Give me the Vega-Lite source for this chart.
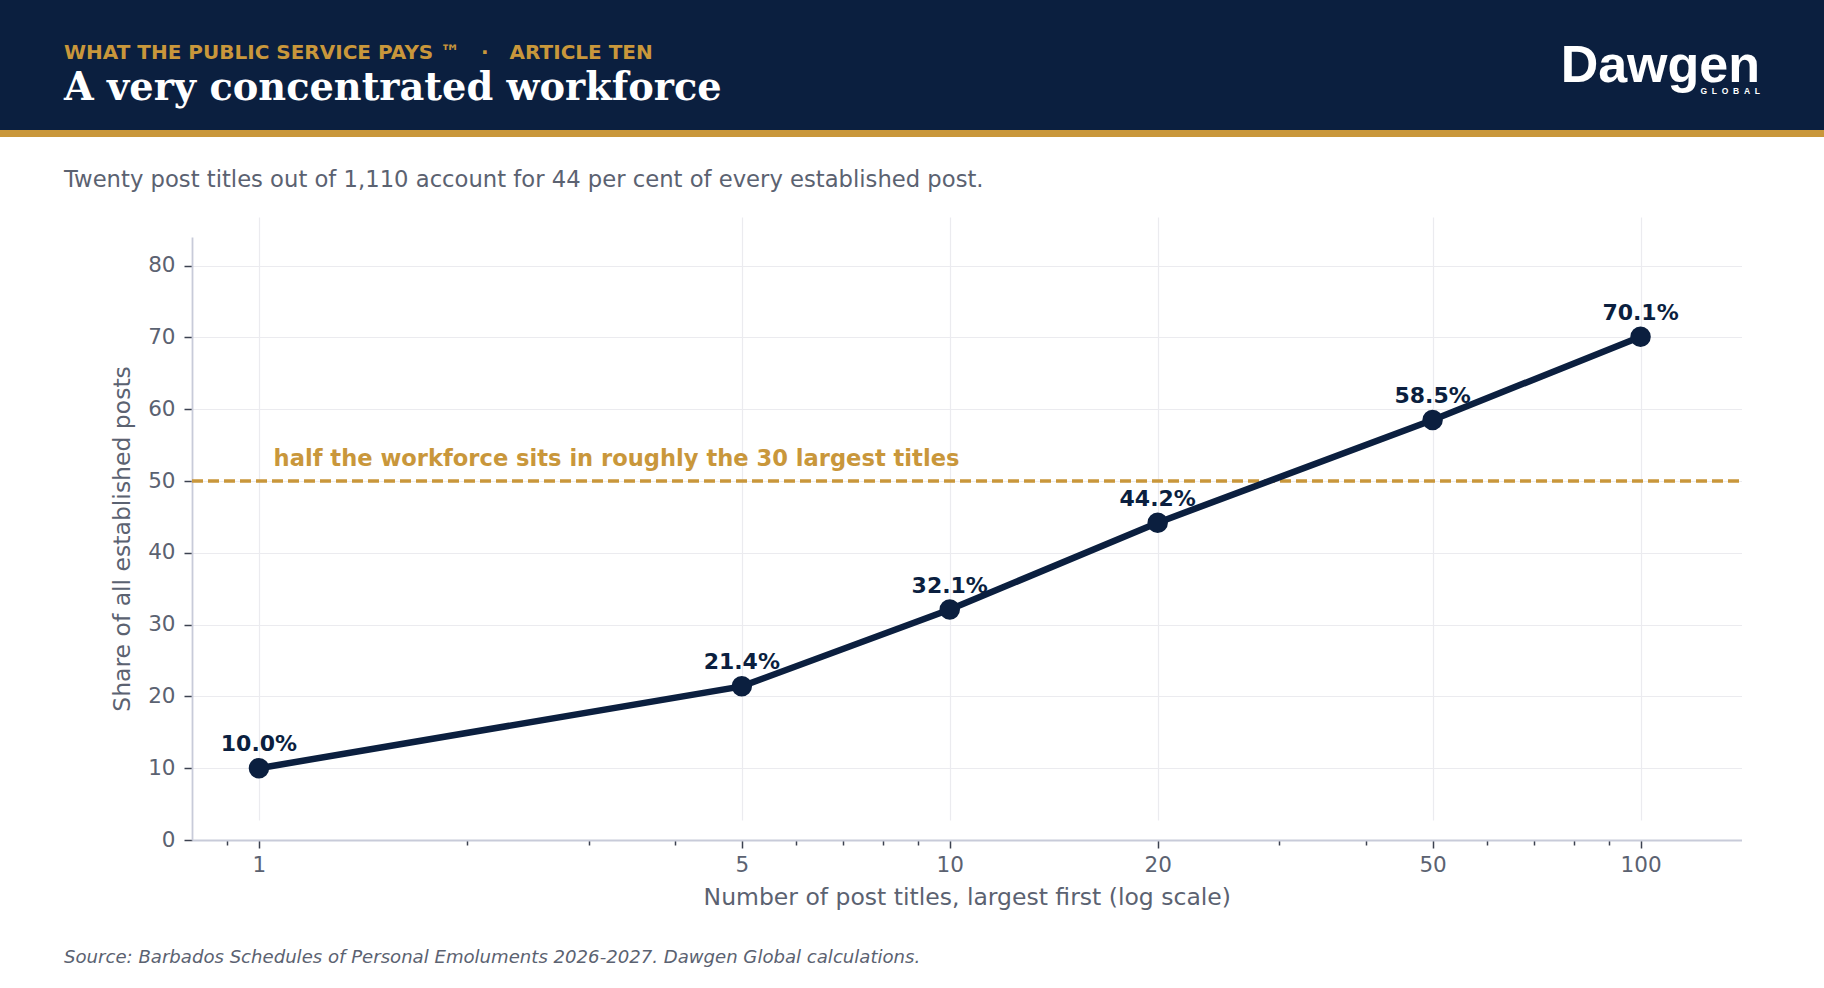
{
  "$schema": "https://vega.github.io/schema/vega-lite/v6.json",
  "padding": 0,
  "background": "white",
  "spacing": 0,
  "bounds": "flush",
  "config": {"view": {"stroke": null}, "font": "DejaVu Sans"},
  "vconcat": [
    {
      "width": 1824,
      "height": 130,
      "view": {"fill": "#0b1f3f", "stroke": null},
      "title": {
        "text": "WHAT THE PUBLIC SERVICE PAYS ™\u00a0\u00a0\u00a0·\u00a0\u00a0\u00a0ARTICLE TEN",
        "subtitle": "A very concentrated workforce",
        "orient": "top",
        "anchor": "start",
        "frame": "group",
        "dx": 64,
        "offset": -107.3,
        "font": "DejaVu Sans",
        "fontSize": 20,
        "fontWeight": "bold",
        "color": "#c9973b",
        "subtitleFont": "DejaVu Serif",
        "subtitleFontSize": 38.3,
        "subtitleFontWeight": "bold",
        "subtitleColor": "#ffffff",
        "subtitlePadding": 7
      },
      "data": {"values": []},
      "mark": "point"
    },
    {
      "width": 1824,
      "height": 7,
      "view": {"fill": "#c9973b", "stroke": null},
      "title": {
        "text": "Dawgen",
        "subtitle": "G\u00a0\u00a0L\u00a0\u00a0O\u00a0\u00a0B\u00a0\u00a0A\u00a0\u00a0L",
        "orient": "top",
        "anchor": "end",
        "frame": "group",
        "dx": -64,
        "offset": 34,
        "font": "Liberation Sans",
        "fontSize": 52,
        "fontWeight": "bold",
        "color": "#ffffff",
        "subtitleFont": "Liberation Sans",
        "subtitleFontSize": 8.5,
        "subtitleFontWeight": "bold",
        "subtitleColor": "#ffffff",
        "subtitlePadding": -6.5
      },
      "data": {"values": []},
      "mark": "point"
    },
    {
      "width": 1824,
      "height": 783,
      "title": {
        "text": "Twenty post titles out of 1,110 account for 44 per cent of every established post.",
        "orient": "top",
        "anchor": "start",
        "frame": "group",
        "dx": 64,
        "offset": -54.5,
        "font": "DejaVu Sans",
        "fontSize": 22.7,
        "fontWeight": "normal",
        "color": "#5b6271"
      },
      "data": {"values": [
        {"n": 1, "share": 10.0, "label": "10.0%"},
        {"n": 5, "share": 21.4, "label": "21.4%"},
        {"n": 10, "share": 32.1, "label": "32.1%"},
        {"n": 20, "share": 44.2, "label": "44.2%"},
        {"n": 50, "share": 58.5, "label": "58.5%"},
        {"n": 100, "share": 70.1, "label": "70.1%"}
      ]},
      "resolve": {"axis": {"x": "independent"}},
      "layer": [
        {
          "data": {"values": [{"threshold": 50}]},
          "mark": {"type": "rule", "color": "#c9973b", "strokeWidth": 3.3, "strokeDash": [11, 5]},
          "encoding": {
            "x": {
              "datum": 0.8,
              "type": "quantitative",
              "scale": {"type": "log", "domain": [0.8, 140], "range": [192, 1741.5], "nice": false},
              "axis": {
                "orient": "bottom",
                "offset": -80,
                "values": [0.9, 2, 3, 4, 6, 7, 8, 9, 30, 40, 60, 70, 80, 90],
                "labels": false,
                "grid": false,
                "domain": false,
                "ticks": true,
                "tickSize": 5,
                "tickWidth": 1.5,
                "tickColor": "#3c4250",
                "title": null
              }
            },
            "x2": {"datum": 140},
            "y": {
              "field": "threshold",
              "type": "quantitative",
              "scale": {"domain": [0, 84], "range": [703, 99.9], "nice": false, "zero": false}
            }
          }
        },
        {
          "data": {"values": [{"threshold": 50, "note": "half the workforce sits in roughly the 30 largest titles"}]},
          "mark": {"type": "text", "align": "left", "baseline": "alphabetic", "dy": -15, "font": "DejaVu Sans", "fontSize": 22.6, "fontWeight": "bold", "color": "#c9973b"},
          "encoding": {
            "x": {
              "datum": 1.05,
              "type": "quantitative",
              "scale": {"type": "log", "domain": [0.8, 140], "range": [192, 1741.5], "nice": false},
              "axis": null
            },
            "y": {
              "field": "threshold",
              "type": "quantitative",
              "scale": {"domain": [0, 84], "range": [703, 99.9], "nice": false, "zero": false}
            },
            "text": {"field": "note"}
          }
        },
        {
          "mark": {
            "type": "line",
            "color": "#0b1f3f",
            "strokeWidth": 6.5,
            "point": {"filled": true, "size": 420, "color": "#0b1f3f", "opacity": 1}
          },
          "encoding": {
            "x": {
              "field": "n",
              "type": "quantitative",
              "scale": {"type": "log", "domain": [0.8, 140], "range": [192, 1741.5], "nice": false},
              "axis": {
                "orient": "bottom",
                "offset": -80,
                "values": [1, 5, 10, 20, 50, 100],
                "format": "d",
                "grid": true,
                "gridColor": "#ebebef",
                "gridWidth": 1.2,
                "domain": true,
                "domainColor": "#c8cbd9",
                "domainWidth": 1.8,
                "tickSize": 8,
                "tickWidth": 1.5,
                "tickColor": "#3c4250",
                "labelFont": "DejaVu Sans",
                "labelFontSize": 21.5,
                "labelColor": "#5b6271",
                "labelPadding": 6,
                "title": "Number of post titles, largest first (log scale)",
                "titleFont": "DejaVu Sans",
                "titleFontSize": 23.5,
                "titleFontWeight": "normal",
                "titleColor": "#5b6271",
                "titlePadding": 10
              }
            },
            "y": {
              "field": "share",
              "type": "quantitative",
              "scale": {"domain": [0, 84], "range": [703, 99.9], "nice": false, "zero": false},
              "axis": {
                "orient": "left",
                "offset": -192,
                "values": [0, 10, 20, 30, 40, 50, 60, 70, 80],
                "grid": true,
                "gridColor": "#ebebef",
                "gridWidth": 1.2,
                "domain": true,
                "domainColor": "#c8cbd9",
                "domainWidth": 1.8,
                "tickSize": 8,
                "tickWidth": 1.5,
                "tickColor": "#3c4250",
                "labelFont": "DejaVu Sans",
                "labelFontSize": 21.5,
                "labelColor": "#5b6271",
                "labelPadding": 9,
                "title": "Share of all established posts",
                "titleFont": "DejaVu Sans",
                "titleFontSize": 23.5,
                "titleFontWeight": "normal",
                "titleColor": "#5b6271",
                "titlePadding": 13
              }
            }
          }
        },
        {
          "mark": {"type": "text", "align": "center", "baseline": "alphabetic", "dy": -17, "font": "DejaVu Sans", "fontSize": 22, "fontWeight": "bold", "color": "#0b1f3f"},
          "encoding": {
            "x": {
              "field": "n",
              "type": "quantitative",
              "scale": {"type": "log", "domain": [0.8, 140], "range": [192, 1741.5], "nice": false},
              "axis": null
            },
            "y": {
              "field": "share",
              "type": "quantitative",
              "scale": {"domain": [0, 84], "range": [703, 99.9], "nice": false, "zero": false}
            },
            "text": {"field": "label"}
          }
        }
      ]
    },
    {
      "width": 1824,
      "height": 68,
      "title": {
        "text": "Source: Barbados Schedules of Personal Emoluments 2026-2027. Dawgen Global calculations.",
        "orient": "top",
        "anchor": "start",
        "frame": "group",
        "dx": 64,
        "offset": -47,
        "font": "DejaVu Sans",
        "fontSize": 18.1,
        "fontStyle": "italic",
        "fontWeight": "normal",
        "color": "#5b6271"
      },
      "data": {"values": []},
      "mark": "point"
    }
  ]
}
